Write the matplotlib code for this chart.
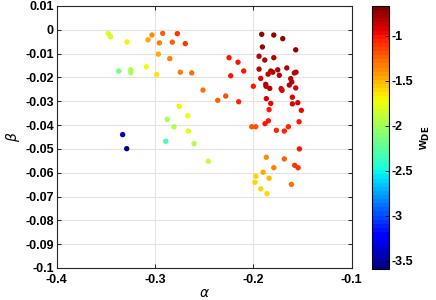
import numpy as np
import matplotlib
matplotlib.use("Agg")
import matplotlib.pyplot as plt

alpha = [-0.3475, -0.3451, -0.3285, -0.3031, -0.2922, -0.2773, -0.3071, -0.2956, -0.2824, -0.2692,
         -0.2966, -0.2850, -0.3369, -0.3247, -0.3247, -0.3088, -0.2983, -0.2743, -0.2627, -0.2512,
         -0.2362, -0.2753, -0.2667, -0.2875, -0.2807, -0.2661, -0.3329, -0.2891, -0.2603, -0.3288,
         -0.2458, -0.1532, -0.1868, -0.1685, -0.1579, -0.1545, -0.1792, -0.1901, -0.1973, -0.1840,
         -0.1983, -0.1613, -0.1925, -0.1861,
         -0.1915, -0.1792, -0.1701, -0.1908, -0.1569, -0.2247, -0.2156, -0.1942, -0.1884, -0.1792,
         -0.2098, -0.2230, -0.1942, -0.1823, -0.1850, -0.1803, -0.1752, -0.1660, -0.1736, -0.1583,
         -0.1566, -0.1925, -0.1620, -0.1609, -0.1634, -0.1874, -0.1871, -0.1833, -0.2000, -0.1718,
         -0.1708, -0.1569, -0.2281, -0.2149, -0.1868, -0.1603, -0.1823, -0.1603, -0.1548, -0.1840,
         -0.1512, -0.1847, -0.1881, -0.2016, -0.1976, -0.1644, -0.1766, -0.1685, -0.1535]
beta = [-0.0016, -0.0029, -0.0051, -0.0022, -0.0015, -0.0016, -0.0042, -0.0055, -0.0052, -0.0058,
        -0.0102, -0.0121, -0.0173, -0.0168, -0.0180, -0.0155, -0.0188, -0.0178, -0.0181, -0.0253,
        -0.0296, -0.0321, -0.0361, -0.0376, -0.0407, -0.0425, -0.0440, -0.0468, -0.0478, -0.0499,
        -0.0552, -0.0500, -0.0535, -0.0542, -0.0569, -0.0579, -0.0579, -0.0598, -0.0615, -0.0623,
        -0.0640, -0.0649, -0.0668, -0.0688,
        -0.0019, -0.0022, -0.0037, -0.0072, -0.0084, -0.0117, -0.0136, -0.0111, -0.0127, -0.0117,
        -0.0173, -0.0193, -0.0165, -0.0173, -0.0186, -0.0178, -0.0168, -0.0160, -0.0191, -0.0181,
        -0.0178, -0.0204, -0.0205, -0.0219, -0.0232, -0.0229, -0.0237, -0.0246, -0.0237, -0.0247,
        -0.0254, -0.0244, -0.0278, -0.0302, -0.0289, -0.0283, -0.0309, -0.0311, -0.0306, -0.0335,
        -0.0338, -0.0382, -0.0394, -0.0407, -0.0407, -0.0407, -0.0422, -0.0425, -0.0386]
w_de = [-1.80, -1.82, -1.70, -1.40, -1.25, -1.10, -1.45, -1.35, -1.25, -1.10,
        -1.45, -1.35, -2.15, -1.97, -1.95, -1.75, -1.65, -1.35, -1.30, -1.30,
        -1.25, -1.70, -1.75, -1.95, -1.95, -1.80, -3.40, -2.35, -1.92, -3.50,
        -1.90, -1.00, -1.40, -1.25, -1.10, -1.10, -1.35, -1.45, -1.60, -1.50,
        -1.60, -1.30, -1.60, -1.60,
        -0.75, -0.75, -0.72, -0.80, -0.75, -1.00, -1.00, -0.85, -0.85, -0.85,
        -1.00, -1.00, -0.85, -0.85, -0.85, -0.85, -0.85, -0.85, -0.85, -0.85,
        -0.85, -0.90, -0.85, -0.85, -0.85, -0.85, -0.85, -0.85, -1.00, -0.90,
        -0.90, -0.90, -1.20, -1.05, -0.90, -0.90, -0.95, -0.90, -0.90, -1.00,
        -0.95, -1.00, -1.00, -1.20, -1.20, -1.05, -1.05, -1.05, -1.00]

xticks = [-0.4, -0.3, -0.2, -0.1]
yticks = [0.01, 0, -0.01, -0.02, -0.03, -0.04, -0.05, -0.06, -0.07, -0.08, -0.09, -0.1]
cticks = [-1, -1.5, -2, -2.5, -3, -3.5]

plt.rcParams['font.family'] = ['Liberation Sans', 'DejaVu Sans']

fig = plt.figure(figsize=(4.36, 3.0), dpi=100)
ax = fig.add_axes([0.130, 0.1067, 0.6766, 0.8733])
cax = fig.add_axes([0.853, 0.1033, 0.039, 0.877])

cmap = matplotlib.colormaps['jet'].resampled(64)
sc = ax.scatter(alpha, beta, c=w_de, cmap=cmap, vmin=-3.59, vmax=-0.67,
                s=15, edgecolors='none', zorder=3)

ax.set_xlim(-0.4, -0.1)
ax.set_ylim(-0.1, 0.01)
ax.set_xticks(xticks)
ax.set_xticklabels(['%g' % v for v in xticks], fontsize=9, fontweight='bold')
ax.set_yticks(yticks)
ax.set_yticklabels(['%g' % v for v in yticks], fontsize=9, fontweight='bold')
ax.grid(True, color='#e3e3e3', linewidth=0.8)
ax.set_axisbelow(True)
ax.tick_params(direction='in', length=3, width=0.6, top=True, right=True)
ax.tick_params(axis='x', pad=4)
ax.tick_params(axis='y', pad=2)
for sp in ax.spines.values():
    sp.set_linewidth(0.8)
    sp.set_color('#262626')
ax.set_xlabel(r'$\alpha$', fontsize=10, labelpad=0)
ax.set_ylabel(r'$\beta$', fontsize=10, labelpad=2)

cb = fig.colorbar(sc, cax=cax)
cb.set_ticks(cticks)
cb.set_ticklabels(['%g' % v for v in cticks])
cb.ax.tick_params(labelsize=9, direction='in', length=3, width=0.6, pad=2)
for t in cb.ax.get_yticklabels():
    t.set_fontweight('bold')
cb.outline.set_linewidth(0.8)
cb.set_label(r'w$_{\mathbf{DE}}$', fontsize=9, fontweight='bold', labelpad=4)

fig.savefig('out.png', dpi=100)
